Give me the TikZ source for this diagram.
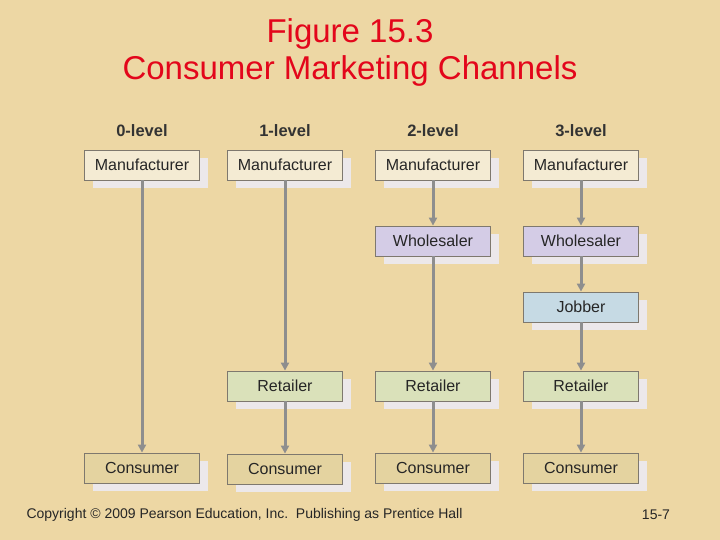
\documentclass[tikz,border=0pt]{standalone}
\usepackage{fontspec}
\setmainfont{Liberation Sans}
\usetikzlibrary{arrows.meta,calc}
\definecolor{bg}{HTML}{EDD7A4}
\definecolor{titlered}{HTML}{E3061B}
\definecolor{manf}{HTML}{F4EBD3}
\definecolor{whol}{HTML}{D4CCE6}
\definecolor{jobb}{HTML}{C6DAE4}
\definecolor{retl}{HTML}{DAE1BA}
\definecolor{cons}{HTML}{E4D3A0}
\definecolor{shad}{HTML}{ECE8EA}
\definecolor{edge}{HTML}{7E786E}
\definecolor{arr}{HTML}{8E8E8E}
\tikzset{
  chbox/.style={draw=edge, line width=0.8pt, minimum width=115pt, minimum height=30pt, inner sep=0pt, font=\fontsize{16}{18}\selectfont, text=black!85},
  hdr/.style={font=\bfseries\fontsize{16.5}{18}\selectfont, text=black!80},
  flow/.style={draw=arr, line width=3pt, -{Triangle[length=8pt,width=8pt]}},
  ttl/.style={text=titlered, font=\fontsize{33}{36}\selectfont},
  foot/.style={font=\fontsize{14}{16}\selectfont, text=black!85},
}
\newcommand{\chnode}[4]{%
  \fill[shad] ($(#3)+(-49.5pt,-23pt)$) rectangle ($(#3)+(65.5pt,7pt)$);
  \node[chbox, fill=#4] (#1) at (#3) {#2};}
\begin{document}
\begin{tikzpicture}[x=1pt,y=-1pt]
\useasboundingbox (0,0) rectangle (720,540);
\fill[bg] (0,0) rectangle (720,540);
\node[ttl] (t1) at (350,34) {Figure 15.3};
\node[ttl] (t2) at (350,71) {Consumer Marketing Channels};
\node[hdr] (h0) at (142,131) {0-level};
\node[hdr] (h1) at (285,131) {1-level};
\node[hdr] (h2) at (433,131) {2-level};
\node[hdr] (h3) at (581,131) {3-level};
% column 0
\chnode{m0}{Manufacturer}{142,165}{manf}
\chnode{c0}{Consumer}{142,468}{cons}
% column 1
\chnode{m1}{Manufacturer}{285,165}{manf}
\chnode{r1}{Retailer}{285,386}{retl}
\chnode{c1}{Consumer}{285,469}{cons}
% column 2
\chnode{m2}{Manufacturer}{433,165}{manf}
\chnode{w2}{Wholesaler}{433,241}{whol}
\chnode{r2}{Retailer}{433,386}{retl}
\chnode{c2}{Consumer}{433,468}{cons}
% column 3
\chnode{m3}{Manufacturer}{581,165}{manf}
\chnode{w3}{Wholesaler}{581,241}{whol}
\chnode{j3}{Jobber}{581,307}{jobb}
\chnode{r3}{Retailer}{581,386}{retl}
\chnode{c3}{Consumer}{581,468}{cons}
% arrows
\draw[flow] (m0) -- (c0);
\draw[flow] (m1) -- (r1);
\draw[flow] (r1) -- (c1);
\draw[flow] (m2) -- (w2);
\draw[flow] (w2) -- (r2);
\draw[flow] (r2) -- (c2);
\draw[flow] (m3) -- (w3);
\draw[flow] (w3) -- (j3);
\draw[flow] (j3) -- (r3);
\draw[flow] (r3) -- (c3);
\node[foot, anchor=west] (copy) at (23,515) {Copyright © 2009 Pearson Education, Inc.\ \ Publishing as Prentice Hall};
\node[foot] (pg) at (656,515) {15-7};
\end{tikzpicture}
\end{document}
